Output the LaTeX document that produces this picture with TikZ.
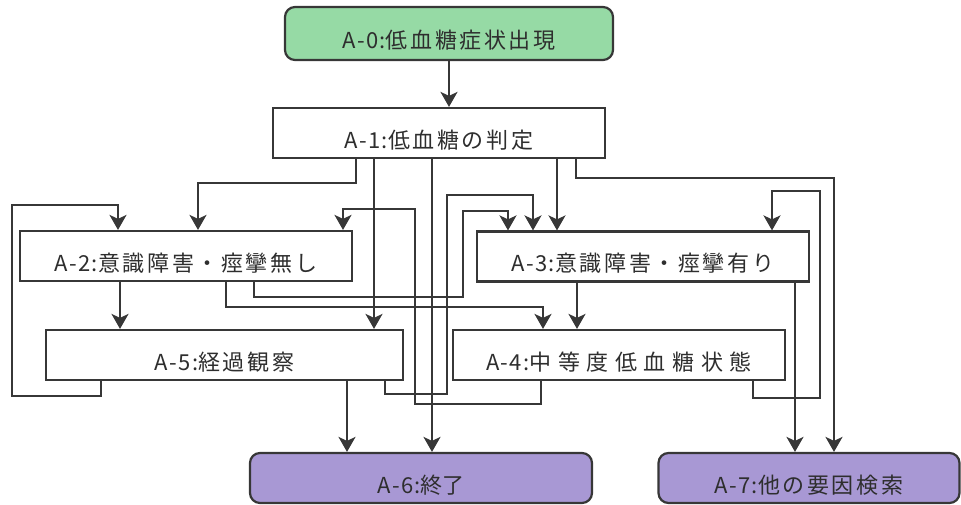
\documentclass[tikz,border=0pt]{standalone}
\usepackage{fontspec}
\newfontfamily\jpfont{Noto Sans CJK JP}
\usetikzlibrary{arrows.meta}
\definecolor{lineC}{RGB}{55,55,55}
\definecolor{startG}{RGB}{150,218,165}
\definecolor{endP}{RGB}{168,152,212}
\newcommand{\boxlbl}[3][12]{\raisebox{-7pt}[\height][\depth]{{\addfontfeature{LetterSpace=6}#2}{\addfontfeature{LetterSpace=#1}#3}}}
\tikzset{
  box/.style={draw=lineC, line width=2.2pt, fill=white, minimum height=50pt,
    inner sep=0pt, text=black!82, font=\jpfont\fontsize{22pt}{25pt}\selectfont},
  startbox/.style={box, fill=startG, rounded corners=10pt},
  endbox/.style={box, fill=endP, rounded corners=10pt},
  arr/.style={draw=lineC, line width=2.2pt, -{Stealth[length=15pt,width=17pt,inset=4pt]}},
}
\begin{document}
\begin{tikzpicture}[x=1pt,y=-1pt]
\useasboundingbox (0,0) rectangle (961,504);
% nodes
\node[startbox, minimum width=328pt, minimum height=53pt] (a0) at (449,33.5) {\boxlbl{A-0:}{低血糖症状出現}};
\node[box, minimum width=332pt] (a1) at (439,133) {\boxlbl{A-1:}{低血糖の判定}};
\node[box, minimum width=332pt] (a2) at (186,256) {\boxlbl{A-2:}{意識障害・痙攣無し}};
\node[box, minimum width=332pt] (a3) at (643,256.5) {\boxlbl{A-3:}{意識障害・痙攣有り}};
\node[box, minimum width=357pt] (a5) at (224.5,355) {\boxlbl{A-5:}{経過観察}};
\node[box, minimum width=332pt] (a4) at (619,355) {\boxlbl[30]{A-4:}{中等度低血糖状態}};
\node[endbox, minimum width=342pt] (a6) at (421,478) {\boxlbl[0]{A-6:}{終了}};
\node[endbox, minimum width=301pt] (a7) at (809,478) {\boxlbl{A-7:}{他の要因検索}};
% connectors
\draw[arr] (a0.south -| 449,0) -- (a1.north -| 449,0);
\draw[arr] (a1.south -| 356,0) -- (356,183) -- (198,183) -- (a2.north -| 198,0);
\draw[arr] (a1.south -| 374,0) -- (a5.north -| 374,0);
\draw[arr] (a1.south -| 432,0) -- (a6.north -| 432,0);
\draw[arr] (a1.south -| 557,0) -- (a3.north -| 557,0);
\draw[arr] (a1.south -| 576,0) -- (576,178) -- (834,178) -- (a7.north -| 834,0);
\draw[arr] (a5.south -| 101,0) -- (101,396) -- (12,396) -- (12,205) -- (118,205) -- (a2.north -| 118,0);
\draw[arr] (a4.south -| 541,0) -- (541,404) -- (415,404) -- (415,209) -- (343,209) -- (a2.north -| 343,0);
\draw[arr] (a2.south -| 120,0) -- (a5.north -| 120,0);
\draw[arr] (a2.south -| 226,0) -- (226,307) -- (543,307) -- (a4.north -| 543,0);
\draw[arr] (a2.south -| 254,0) -- (254,297) -- (463,297) -- (463,211) -- (508,211) -- (a3.north -| 508,0);
\draw[arr] (a5.south -| 347,0) -- (a6.north -| 347,0);
\draw[arr] (a5.south -| 385,0) -- (385,394) -- (447,394) -- (447,195) -- (533,195) -- (a3.north -| 533,0);
\draw[arr] (a4.south -| 753,0) -- (753,398) -- (820,398) -- (820,191) -- (772,191) -- (a3.north -| 772,0);
\draw[arr] (a3.south -| 577,0) -- (a4.north -| 577,0);
\draw[arr] (a3.south -| 795,0) -- (a7.north -| 795,0);
\end{tikzpicture}
\end{document}
